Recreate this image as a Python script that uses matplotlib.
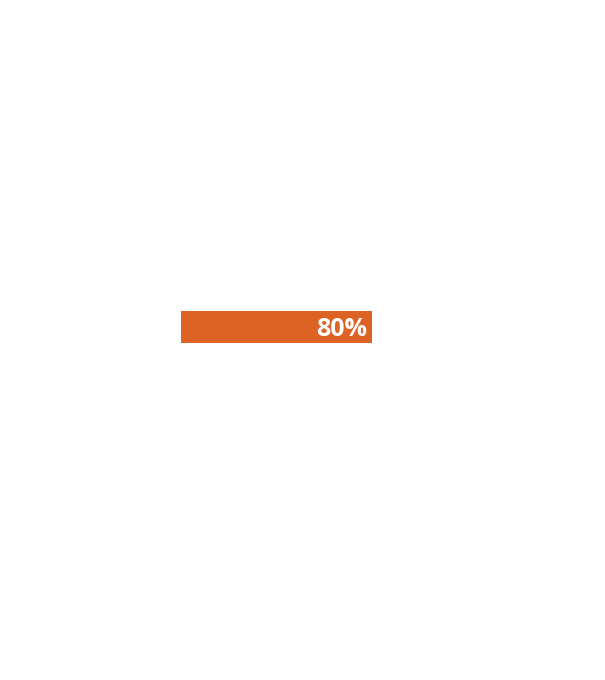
import matplotlib
matplotlib.use("Agg")
import matplotlib.pyplot as plt

# data
categories = ["progress"]
values = [80]
labels = ["80%"]
bar_color = "#DD6325"

W, H = 605, 680
fig = plt.figure(figsize=(W / 100, H / 100), dpi=100)
# axis spans 0..100 so the bar covers 80% of it
ax = fig.add_axes([181 / W, (H - 343) / H, 239 / W, 32 / H])
ax.barh(categories, values, height=1.0, color=bar_color)
ax.set_xlim(0, 100)
ax.set_ylim(-0.5, 0.5)
ax.axis("off")

for i, (v, lab) in enumerate(zip(values, labels)):
    ax.annotate(lab, xy=(v, i), xytext=(-3.5, -2), textcoords="offset points",
                ha="right", va="center", color="white", fontsize=18,
                fontweight="bold", family=["Open Sans", "DejaVu Sans"])

fig.savefig("out.png", dpi=100)
